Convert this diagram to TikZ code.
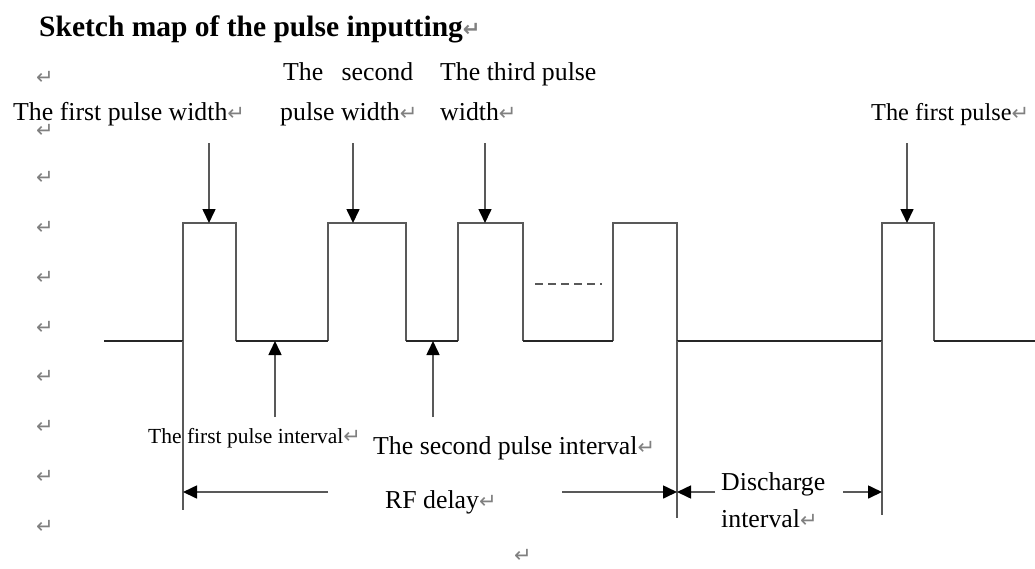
\documentclass[tikz,border=0pt]{standalone}
\usepackage{fontspec}
\setmainfont{Liberation Serif}
\newfontfamily\markfont{DejaVu Sans}
\usetikzlibrary{arrows.meta}

\newcommand{\pmark}{{\color{black!50}\markfont\fontsize{21}{21}\selectfont ↵}}

\tikzset{
  lbl/.style={inner sep=0pt, anchor=base west, font=\fontsize{25.8}{30}\selectfont},
  smalllbl/.style={inner sep=0pt, anchor=base west, font=\fontsize{21.5}{26}\selectfont},
  parmark/.style={inner sep=0pt, anchor=center},
  pulse/.style={draw=black!65, line width=1.6pt},
  lowline/.style={draw=black!85, line width=1.1pt},
  arr/.style={draw=black!65, line width=1.6pt, -{Triangle[length=14pt,width=13pt,fill=black,color=black]}}
}

\begin{document}
\begin{tikzpicture}[x=1pt, y=-1pt]
\useasboundingbox (0,0) rectangle (1035,568);

% title
\node[lbl, font=\fontsize{29.5}{34}\selectfont\bfseries] (title) at (39,36) {Sketch map of the pulse inputting\pmark};

% empty paragraph marks down the left side
\foreach \y [count=\i] in {78,131,178,228,278,328,377,427,477,527}
  \node[parmark] (pm\i) at (45,\y) {\pmark};
\node[parmark] (pmb) at (523,556) {\pmark};

% labels above
\node[lbl] (w1) at (13,120) {The first pulse width\pmark};
\node[lbl] (w2a) at (283,80) {\makebox[130pt][s]{The second}};
\node[lbl] (w2b) at (280,120) {pulse width\pmark};
\node[lbl] (w3a) at (440,80) {The third pulse};
\node[lbl] (w3b) at (440,120) {width\pmark};
\node[lbl, font=\fontsize{24.3}{30}\selectfont] (w5) at (871,120) {The first pulse\pmark};

% labels below
\node[smalllbl] (i1) at (148,443) {The first pulse interval\pmark};
\node[lbl] (i2) at (373,454) {The second pulse interval\pmark};
\node[lbl] (rf) at (385,508) {RF delay\pmark};
\node[lbl] (dca) at (721,490) {Discharge};
\node[lbl] (dcb) at (721,527) {interval\pmark};

% pulse train
\foreach \a/\b [count=\i] in {183/236, 328/406, 458/523, 613/677, 882/934}{
  \coordinate (up\i) at (\a,341);
  \coordinate (dn\i) at (\b,341);
  \draw[pulse] (up\i) -- (\a,223) -- (\b,223) -- (dn\i);
}
\coordinate (start) at (104,341);
\coordinate (stop) at (1035,341);
\draw[lowline] (start) -- (up1);
\draw[lowline] (dn1) -- (up2);
\draw[lowline] (dn2) -- (up3);
\draw[lowline] (dn3) -- (up4);
\draw[lowline] (dn4) -- (up5);
\draw[lowline] (dn5) -- (stop);
\draw[black!65, line width=1.6pt, dash pattern=on 8pt off 5pt] (535,284) -- (602,284);

% extension lines
\coordinate (e1) at (183,510);
\coordinate (e4) at (677,518);
\coordinate (e5) at (882,515);
\draw[pulse] (up1) -- (e1);
\draw[pulse] (dn4) -- (e4);
\draw[pulse] (up5) -- (e5);

% width arrows
\foreach \x [count=\i] in {209,353,485,907}{
  \coordinate (ws\i) at (\x,143);
  \coordinate (wt\i) at (\x,223);
  \draw[arr] (ws\i) -- (wt\i);
}
% interval arrows
\foreach \x [count=\i] in {275,433}{
  \coordinate (is\i) at (\x,417);
  \coordinate (it\i) at (\x,341);
  \draw[arr] (is\i) -- (it\i);
}

% delay arrows
\coordinate (rfl) at (183,492);
\coordinate (rfr) at (677,492);
\coordinate (dcr) at (882,492);
\coordinate (rfls) at (328,492);
\coordinate (rfrs) at (562,492);
\coordinate (dcls) at (715,492);
\coordinate (dcrs) at (843,492);
\draw[arr] (rfls) -- (rfl);
\draw[arr] (rfrs) -- (rfr);
\draw[arr] (dcls) -- (rfr);
\draw[arr] (dcrs) -- (dcr);
\end{tikzpicture}
\end{document}
